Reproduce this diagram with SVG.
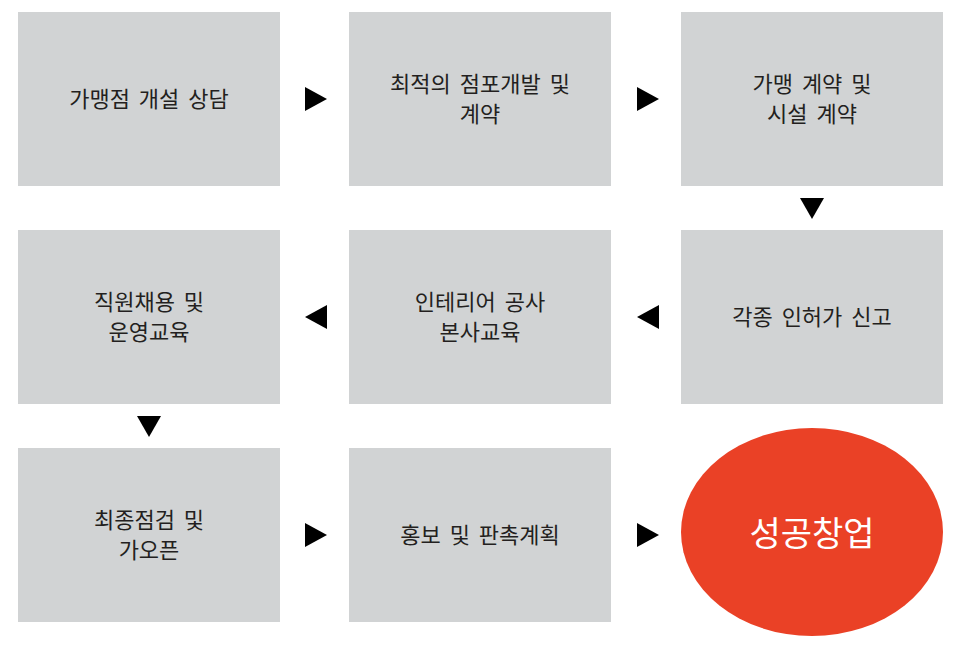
<svg xmlns="http://www.w3.org/2000/svg" width="966" height="648" viewBox="0 0 966 648">
<style>
.b{fill:#d1d3d4}
.t{font-family:"Noto Sans CJK KR","Noto Sans",sans-serif;font-size:22px;fill:#231f20;text-anchor:middle;word-spacing:4px}
.a{fill:#000}
</style>
<rect width="966" height="648" fill="#fff"/>
<g id="n1"><rect class="b" x="18" y="12" width="262" height="174"/><text class="t" x="149" y="107">가맹점 개설 상담</text></g>
<g id="n2"><rect class="b" x="349" y="12" width="262" height="174"/><text class="t" x="480" y="92">최적의 점포개발 및</text><text class="t" x="480" y="122">계약</text></g>
<g id="n3"><rect class="b" x="681" y="12" width="262" height="174"/><text class="t" x="812" y="92">가맹 계약 및</text><text class="t" x="812" y="122">시설 계약</text></g>
<g id="n4"><rect class="b" x="681" y="230" width="262" height="174"/><text class="t" x="812" y="325">각종 인허가 신고</text></g>
<g id="n5"><rect class="b" x="349" y="230" width="262" height="174"/><text class="t" x="480" y="310">인테리어 공사</text><text class="t" x="480" y="340">본사교육</text></g>
<g id="n6"><rect class="b" x="18" y="230" width="262" height="174"/><text class="t" x="149" y="310">직원채용 및</text><text class="t" x="149" y="340">운영교육</text></g>
<g id="n7"><rect class="b" x="18" y="448" width="262" height="174"/><text class="t" x="149" y="528">최종점검 및</text><text class="t" x="149" y="558">가오픈</text></g>
<g id="n8"><rect class="b" x="349" y="448" width="262" height="174"/><text class="t" x="480" y="543">홍보 및 판촉계획</text></g>
<g id="n9"><ellipse cx="812" cy="532" rx="131" ry="104" fill="#ea4126"/><text x="812" y="546" font-family="Noto Sans CJK KR,sans-serif" font-size="34" fill="#fff" text-anchor="middle">성공창업</text></g>
<g id="connectors">
<polygon class="a" points="305,87 327,99 305,111"/>
<polygon class="a" points="637,87 659,99 637,111"/>
<polygon class="a" points="800,198 824,198 812,219"/>
<polygon class="a" points="659,305 637,317 659,329"/>
<polygon class="a" points="327,305 305,317 327,329"/>
<polygon class="a" points="137,416 161,416 149,437"/>
<polygon class="a" points="305,523 327,535 305,547"/>
<polygon class="a" points="637,523 659,535 637,547"/>
</g>
</svg>
